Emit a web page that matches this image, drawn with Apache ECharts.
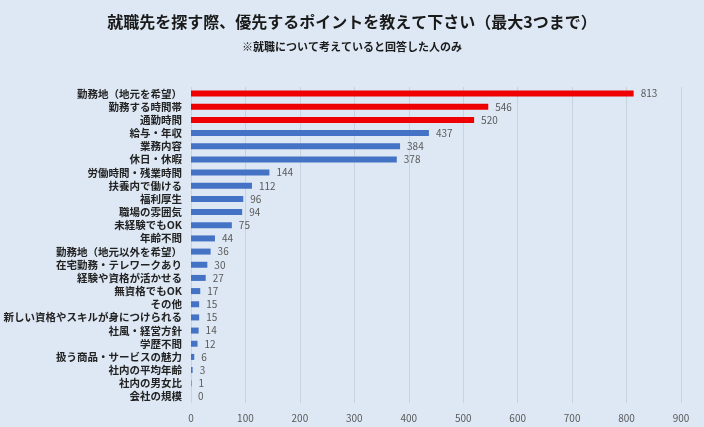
<!DOCTYPE html>
<html><head><meta charset="utf-8">
<script src="https://cdn.jsdelivr.net/npm/echarts@6/dist/echarts.min.js"></script>
<style>html,body{margin:0;padding:0;background:#dde8f4;}#c{width:704px;height:427px;}</style>
</head><body><div id="c"></div>
<script>
var categories = ["勤務地（地元を希望）","勤務する時間帯","通勤時間","給与・年収","業務内容","休日・休暇","労働時間・残業時間","扶養内で働ける","福利厚生","職場の雰囲気","未経験でもOK","年齢不問","勤務地（地元以外を希望）","在宅勤務・テレワークあり","経験や資格が活かせる","無資格でもOK","その他","新しい資格やスキルが身につけられる","社風・経営方針","学歴不問","扱う商品・サービスの魅力","社内の平均年齢","社内の男女比","会社の規模"];
var values = [813,546,520,437,384,378,144,112,96,94,75,44,36,30,27,17,15,15,14,12,6,3,1,0];
var highlightCount = 3;
var titleText = "就職先を探す際、優先するポイントを教えて下さい（最大3つまで）";
var subtitleText = "※就職について考えていると回答した人のみ";

var chart = echarts.init(document.getElementById('c'), null, {renderer:'canvas'});
var font = '"Noto Sans CJK JP", sans-serif';
chart.setOption({
  backgroundColor: '#dde8f4',
  animation: false,
  title: {
    text: titleText, subtext: subtitleText, left: 'center', top: 9, itemGap: 11,
    textStyle: {fontFamily: font, fontSize: 16, fontWeight: 'bold', color: '#1a1a1a'},
    subtextStyle: {fontFamily: font, fontSize: 11, fontWeight: 'bold', color: '#1a1a1a'}
  },
  grid: {left: 191, right: 23, top: 87, bottom: 24, containLabel: false},
  xAxis: {
    type: 'value', min: 0, max: 900, interval: 100,
    axisLine: {show: false}, axisTick: {show: false},
    splitLine: {lineStyle: {color: '#c9d3de', width: 1}},
    axisLabel: {fontFamily: font, fontSize: 10, color: '#595959', margin: 10}
  },
  yAxis: {
    type: 'category', inverse: true, data: categories,
    axisLine: {show: false}, axisTick: {show: false},
    axisLabel: {interval: 0, fontFamily: font, fontSize: 10.5, fontWeight: 'bold', color: '#222', margin: 9}
  },
  series: [{
    type: 'bar', barWidth: 6,
    data: values.map(function(v, i){
      return {value: v, itemStyle: {color: i < highlightCount ? '#ee0000' : '#4472c4'}};
    }),
    label: {show: true, position: 'right', distance: 7, fontFamily: font, fontSize: 10, color: '#595959'}
  }]
});
</script></body></html>
